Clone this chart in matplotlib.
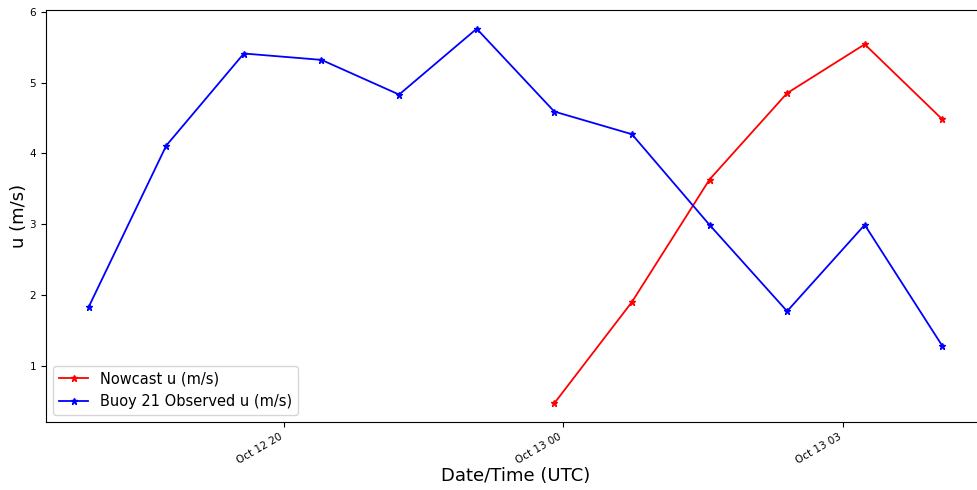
import numpy as np
import matplotlib
matplotlib.use("Agg")
import matplotlib.pyplot as plt
import matplotlib.dates as mdates

# Dados (hora de observação, u em m/s)
buoy_times = np.array(["2023-10-12T17:53", "2023-10-12T18:53", "2023-10-12T19:53",
                       "2023-10-12T20:53", "2023-10-12T21:53", "2023-10-12T22:53",
                       "2023-10-12T23:53", "2023-10-13T00:53", "2023-10-13T01:53",
                       "2023-10-13T02:53", "2023-10-13T03:53", "2023-10-13T04:53"],
                      dtype="datetime64[m]")
buoy_u = [1.83, 4.11, 5.41, 5.32, 4.83, 5.76, 4.59, 4.27, 2.99, 1.77, 2.99, 1.28]

nowcast_times = buoy_times[6:]
nowcast_u = [0.47, 1.90, 3.63, 4.85, 5.54, 4.48]

tick_times = np.array(["2023-10-12T20:24", "2023-10-13T00:00", "2023-10-13T03:36"],
                      dtype="datetime64[m]")

fig = plt.figure(figsize=(9.77, 4.9), dpi=100)
ax = fig.add_axes([46 / 977, 68 / 490, 939 / 977, 412 / 490])

ax.plot(nowcast_times, nowcast_u, color="red", marker="*", lw=1.3, ms=5,
        label="Nowcast u (m/s)")
ax.plot(buoy_times, buoy_u, color="blue", marker="*", lw=1.3, ms=5,
        label="Buoy 21 Observed u (m/s)")

ax.xaxis.set_major_locator(matplotlib.ticker.FixedLocator(mdates.date2num(tick_times)))
ax.xaxis.set_major_formatter(mdates.DateFormatter("%b %d %H"))
ax.tick_params(labelsize=7.5)
for lbl in ax.get_xticklabels():
    lbl.set_rotation(30)
    lbl.set_ha("right")

ax.set_xlabel("Date/Time (UTC)", fontsize=13, labelpad=1)
ax.set_ylabel("u (m/s)", fontsize=13, labelpad=1)
ax.legend(loc="lower left", fontsize=10.5)

plt.savefig("out.png", dpi=100)
plt.close()
